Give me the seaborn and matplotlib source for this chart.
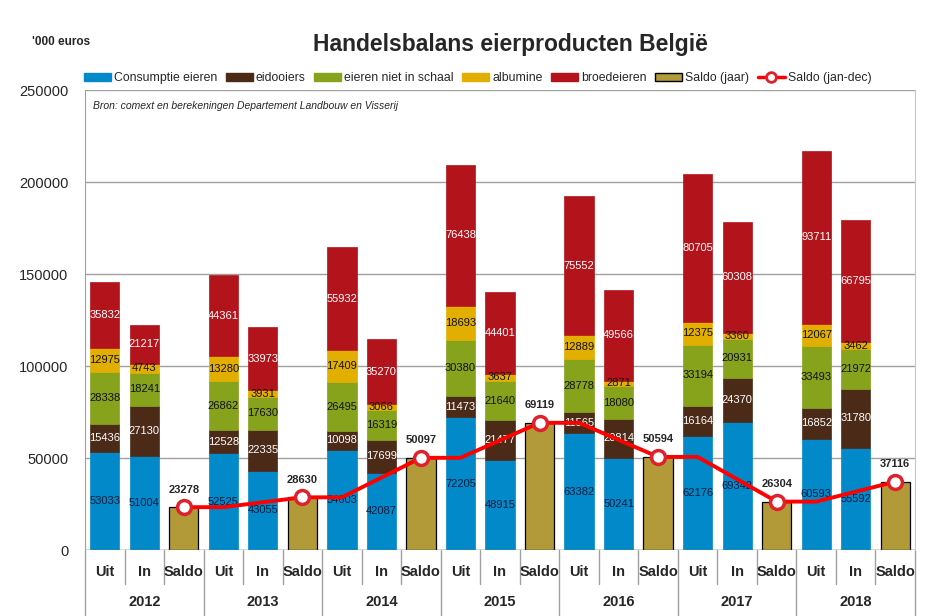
import matplotlib
matplotlib.use("Agg")
import matplotlib.pyplot as plt
from matplotlib.lines import Line2D
from matplotlib.patches import Patch
import seaborn as sns
import numpy as np
import pandas as pd

# data ('000 euros)
years = ["2012", "2013", "2014", "2015", "2016", "2017", "2018"]
sub_labels = ["Uit", "In", "Saldo"]
consumptie_uit = [53033, 52525, 54603, 72205, 63382, 62176, 60593]
consumptie_in = [51004, 43055, 42087, 48915, 50241, 69342, 55592]
eidooiers_uit = [15436, 12528, 10098, 11473, 11565, 16164, 16852]
eidooiers_in = [27130, 22335, 17699, 21477, 20814, 24370, 31780]
schaal_uit = [28338, 26862, 26495, 30380, 28778, 33194, 33493]
schaal_in = [18241, 17630, 16319, 21640, 18080, 20931, 21972]
albumine_uit = [12975, 13280, 17409, 18693, 12889, 12375, 12067]
albumine_in = [4743, 3931, 3066, 3637, 2871, 3360, 3462]
broed_uit = [35832, 44361, 55932, 76438, 75552, 80705, 93711]
broed_in = [21217, 33973, 35270, 44401, 49566, 60308, 66795]
saldo = [23278, 28630, 50097, 69119, 50594, 26304, 37116]

series = [
    ("Consumptie eieren", consumptie_uit, consumptie_in, "#0189C9", "#0a1a3a"),
    ("eidooiers", eidooiers_uit, eidooiers_in, "#4B2A18", "white"),
    ("eieren niet in schaal", schaal_uit, schaal_in, "#87A21B", "#111111"),
    ("albumine", albumine_uit, albumine_in, "#E2AE00", "#111111"),
    ("broedeieren", broed_uit, broed_in, "#B3141B", "white"),
]
saldo_color = "#B39A38"

sns.set_style("white")
plt.rcParams["font.family"] = ["Liberation Sans", "DejaVu Sans"]

fig = plt.figure(figsize=(9.3, 6.16), dpi=100)
ax = fig.add_axes([85 / 930, 66 / 616, 830 / 930, 460 / 616])

n = len(years)
bw = 0.74
x_uit = np.arange(n) * 3
x_in = x_uit + 1
x_saldo = x_uit + 2

bottom_uit = np.zeros(n)
bottom_in = np.zeros(n)
for name, vu, vi, col, tcol in series:
    vu = np.array(vu); vi = np.array(vi)
    ax.bar(x_uit, vu, bw, bottom=bottom_uit, color=col, edgecolor=col, lw=0.5, zorder=3)
    ax.bar(x_in, vi, bw, bottom=bottom_in, color=col, edgecolor=col, lw=0.5, zorder=3)
    for xs, vals, bots in [(x_uit, vu, bottom_uit), (x_in, vi, bottom_in)]:
        for xx, v, b in zip(xs, vals, bots):
            ax.text(xx, b + v / 2, str(v), ha="center", va="center", fontsize=8,
                    color=tcol, zorder=5)
    bottom_uit += vu
    bottom_in += vi

ax.bar(x_saldo, saldo, bw, color=saldo_color, edgecolor="black", lw=0.9, zorder=3)
for xx, v in zip(x_saldo, saldo):
    ax.annotate(str(v), (xx, v), xytext=(0, 9), textcoords="offset points",
                ha="center", va="bottom", fontsize=8, fontweight="bold", zorder=6)

# saldo (jan-dec) line: flat from previous saldo at Uit to current saldo
lx = [x_saldo[0]]
ly = [saldo[0]]
for i in range(1, n):
    lx += [x_uit[i], x_saldo[i]]
    ly += [saldo[i - 1], saldo[i]]
line_df = pd.DataFrame({"x": lx, "y": ly})
sns.lineplot(data=line_df, x="x", y="y", sort=False, color="#FF0000", lw=2.8, ax=ax, zorder=7)
ax.plot(x_saldo, saldo, "o", ms=10, mfc="white", mec="#E0202A", mew=2.5, zorder=8)

ax.set_xlim(-0.5, 3 * n - 0.5)
ax.set_ylim(0, 250000)
ax.set_yticks(np.arange(0, 250001, 50000))
ax.yaxis.grid(True, color="#A0A0A0", lw=1, zorder=0)
ax.tick_params(axis="y", labelsize=10.5, length=0, pad=12)
ax.set_xticks([])
ax.set_xlabel("")
ax.set_ylabel("")
for s in ["top", "bottom"]:
    ax.spines[s].set_visible(False)
ax.spines["left"].set_color("#A0A0A0")
ax.spines["right"].set_color("#C8C8C8")
ax.axhline(0, color="#808080", lw=1, zorder=4)

# two-level category axis
trans = ax.get_xaxis_transform()
for i in range(n):
    for j, lab in enumerate(sub_labels):
        ax.text(3 * i + j, -0.048, lab, transform=trans, ha="center", va="center",
                fontsize=10.5, fontweight="bold")
    ax.text(3 * i + 1, -0.113, years[i], transform=trans, ha="center", va="center",
            fontsize=10.5, fontweight="bold")
for k in range(3 * n + 1):
    yb = -0.143 if k % 3 == 0 else -0.074
    ax.add_line(Line2D([k - 0.5, k - 0.5], [0, yb], transform=trans, color="#A0A0A0",
                       lw=1, clip_on=False))

ax.text(0.01, 0.965, "Bron: comext en berekeningen Departement Landbouw en Visserij",
        transform=ax.transAxes, fontsize=7.5, style="italic", va="center")

fig.text(510 / 930, 1 - 45 / 616, "Handelsbalans eierproducten België", ha="center",
         va="center", fontsize=16.5, fontweight="bold")
fig.text(32 / 930, 1 - 42 / 616, "'000 euros", ha="left", va="center", fontsize=8.5,
         fontweight="bold")

handles = [Patch(facecolor=c, edgecolor=c) for _, _, _, c, _ in series]
handles.append(Patch(facecolor=saldo_color, edgecolor="black"))
handles.append(Line2D([], [], color="#FF0000", lw=2.5, marker="o", ms=7, mfc="white",
                      mec="#E0202A", mew=2))
labels = [s[0] for s in series] + ["Saldo (jaar)", "Saldo (jan-dec)"]
fig.legend(handles, labels, loc="center left", bbox_to_anchor=(84 / 930, 1 - 78 / 616),
           ncol=7, frameon=False, fontsize=8.8, handlelength=2.2, handleheight=0.6,
           columnspacing=0.7, handletextpad=0.25, borderaxespad=0, borderpad=0)

fig.savefig("out.png", dpi=100)
